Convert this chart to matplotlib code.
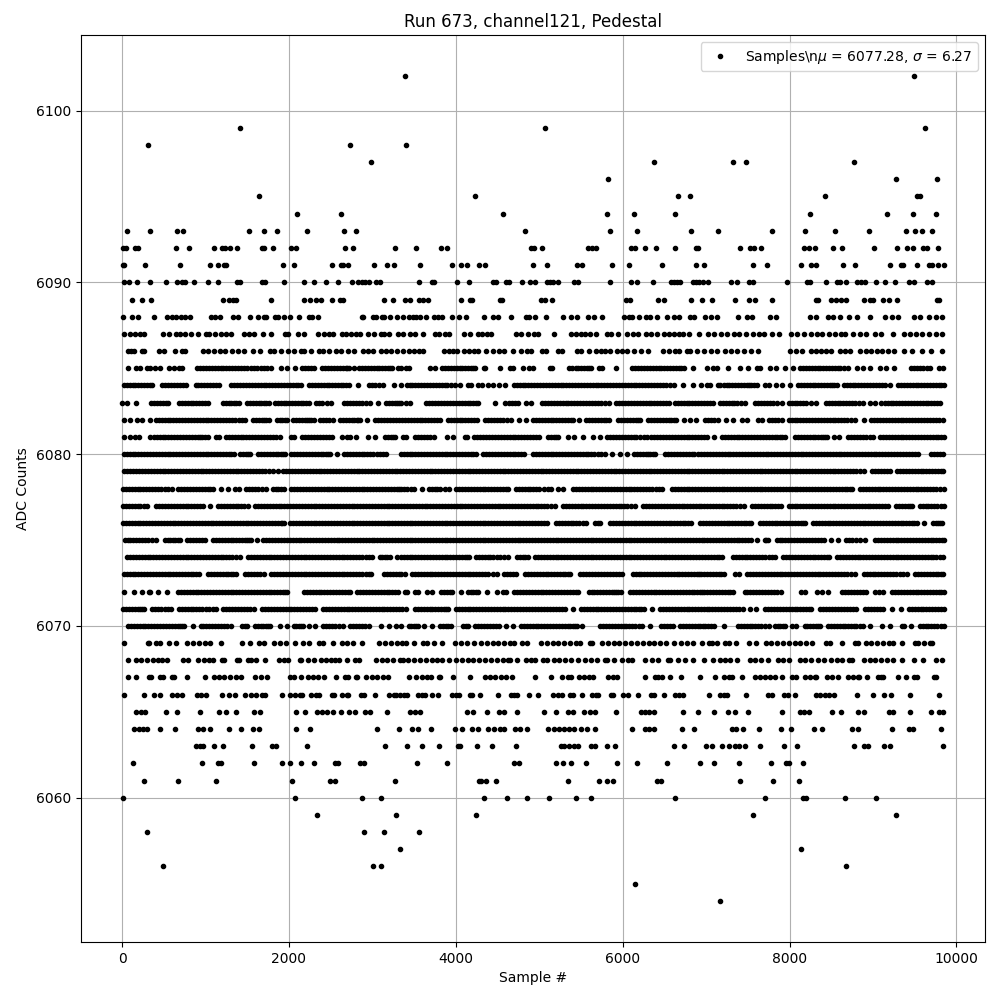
import numpy as np
import matplotlib
matplotlib.use('Agg')
import matplotlib.pyplot as plt

# sample numbers, one list per ADC count
s6102 = [3390, 9490]
s6099 = [1417, 5071, 9624]
s6098 = [315, 2735, 3406]
s6097 = [2987, 6377, 7324, 7480, 8774]
s6096 = [5826, 9277, 9768]
s6095 = [1645, 4232, 6664, 6808, 8426, 9532, 9564]
s6094 = [2100, 2627, 4568, 5810, 6137, 6628, 8247, 9169, 9480, 9756]
s6093 = [64, 340, 663, 735, 1525, 1705, 1861, 2220, 2663, 2807, 4831, 5850, 6173, 6820, 7144, 7791, 8187, 8546,
         8953, 9396, 9504, 9588, 9708]
s6092 = [8, 48, 160, 188, 651, 806, 1106, 1198, 1234, 1298, 1382, 1680, 1700, 1813, 2028, 2080, 2675, 2771, 3274,
         3526, 3825, 3897, 4907, 4939, 5035, 5586, 5634, 5682, 6097, 6149, 6269, 6400, 6628, 6880, 6905, 7408, 7528,
         7576, 7660, 8175, 8235, 8306, 8522, 8630, 9013, 9289, 9409, 9480, 9600, 9652, 9780]
s6091 = [5, 20, 280, 698, 1058, 1154, 1218, 1250, 1932, 2064, 2520, 2623, 2651, 2711, 3022, 3178, 3262, 3574, 3957,
         4065, 4137, 4280, 4352, 4927, 5095, 5454, 5514, 5874, 6077, 6472, 6880, 6977, 7564, 7731, 8139, 8258, 8318,
         8642, 8786, 9205, 9332, 9360, 9524, 9672, 9708, 9780, 9850]
s6090 = [28, 88, 183, 339, 531, 663, 723, 759, 866, 1034, 1154, 1382, 1418, 1681, 1717, 1944, 2184, 2304, 2448, 2592,
         2760, 2831, 2879, 2915, 2963, 3047, 3095, 3562, 3713, 3737, 4017, 4161, 4448, 4484, 4604, 4632, 4796, 4891,
         4951, 5095, 5131, 5167, 5227, 5418, 5466, 5850, 6101, 6173, 6365, 6580, 6616, 6652, 6688, 6844, 6880, 6917,
         6957, 7025, 7300, 7372, 7516, 7564, 7971, 8210, 8246, 8438, 8570, 8606, 8678, 8809, 8857, 8905, 9037, 9145,
         9265, 9432, 9492, 9648, 9708]
s6089 = [124, 244, 352, 1214, 1286, 1334, 1366, 1789, 2184, 2256, 2328, 2388, 2520, 2615, 2651, 3142, 3250, 3394,
         3454, 3562, 3610, 3669, 4065, 4173, 4197, 4532, 4556, 5023, 5071, 5155, 6041, 6089, 6425, 6497, 6820, 6953,
         7073, 7348, 7516, 7588, 7791, 8318, 8342, 8498, 8558, 8618, 8678, 8893, 8965, 9001, 9121, 9193, 9289, 9768,
         9792]
s6088 = [16, 124, 196, 387, 543, 603, 651, 711, 759, 818, 1070, 1118, 1178, 1334, 1394, 1537, 1633, 1705, 1729, 1837,
         1872, 1944, 2016, 2124, 2244, 2280, 2352, 2875, 2890, 3002, 3047, 3118, 3142, 3214, 3298, 3370, 3442, 3490,
         3526, 3574, 3645, 3741, 3789, 3837, 3957, 4041, 4125, 4340, 4448, 4508, 4664, 4843, 4879, 4951, 5083, 5287,
         5382, 5454, 5586, 5658, 5754, 6017, 6077, 6113, 6201, 6281, 6329, 6413, 6532, 6616, 6676, 6808, 6857, 6989,
         7057, 7128, 7384, 7492, 7552, 7767, 7839, 8247, 8318, 8462, 8522, 8606, 8714, 8809, 8965, 9145, 9229, 9301,
         9492, 9564, 9672, 9756, 9828]
s6087 = [28, 100, 160, 220, 268, 495, 567, 651, 698, 759, 830, 914, 1010, 1046, 1118, 1190, 1250, 1310, 1465, 1525,
         1585, 1693, 1789, 1956, 1992, 2112, 2184, 2352, 2423, 2483, 2531, 2639, 2687, 2747, 2807, 2855, 2951, 3022,
         3106, 3142, 3202, 3310, 3370, 3454, 3514, 3610, 3753, 3801, 3873, 3921, 4101, 4173, 4268, 4316, 4376, 4424,
         4724, 4784, 4867, 4939, 4987, 5179, 5382, 5442, 5502, 5550, 5610, 5682, 5814, 5862, 5946, 6053, 6125, 6185,
         6281, 6341, 6413, 6497, 6556, 6616, 6676, 6724, 6796, 6917, 7017, 7097, 7176, 7256, 7336, 7400, 7476, 7556,
         7636, 7695, 7791, 7875, 8015, 8095, 8175, 8254, 8326, 8394, 8474, 8542, 8614, 8666, 8761, 8845, 8913, 9021,
         9101, 9241, 9372, 9444, 9512, 9592, 9672, 9752, 9832]
s6086 = [68, 108, 148, 243, 267, 447, 507, 639, 723, 759, 966, 1034, 1106, 1178, 1238, 1318, 1386, 1465, 1573, 1657,
         1777, 1825, 1905, 1984, 2064, 2144, 2184, 2268, 2364, 2404, 2483, 2567, 2623, 2703, 2783, 2883, 2943, 3002,
         3106, 3166, 3226, 3298, 3370, 3442, 3502, 3562, 3602, 3861, 3921, 3961, 4017, 4101, 4161, 4220, 4260, 4364,
         4448, 4520, 4580, 4688, 4787, 4851, 4907, 5035, 5083, 5227, 5275, 5458, 5502, 5598, 5678, 5738, 5790, 5850,
         5934, 5997, 6057, 6137, 6217, 6305, 6485, 6556, 6628, 6676, 6768, 6808, 6892, 6977, 7057, 7136, 7228, 7296,
         7376, 7456, 7536, 7616, 8007, 8075, 8155, 8254, 8314, 8382, 8434, 8494, 8606, 8666, 8726, 8845, 8913, 8973,
         9053, 9113, 9181, 9253, 9372, 9472, 9592, 9692, 9832]
s6085 = [76, 172, 216, 300, 340, 392, 460, 560, 620, 680, 716, 900, 970, 1040, 1110, 1180, 1250, 1320, 1390, 1460,
         1540, 1620, 1700, 1780, 1910, 1980, 2076, 2160, 2230, 2300, 2400, 2470, 2540, 2610, 2680, 2716, 2776, 2840,
         2910, 2980, 3050, 3120, 3190, 3236, 3310, 3348, 3400, 3442, 3694, 3750, 3834, 3905, 3975, 4045, 4115, 4185,
         4230, 4340, 4350, 4534, 4654, 4690, 4802, 4882, 4930, 5126, 5158, 5362, 5435, 5505, 5575, 5622, 5722, 5758,
         5914, 6114, 6185, 6255, 6325, 6395, 6465, 6535, 6605, 6675, 6730, 6846, 7009, 7080, 7125, 7257, 7409, 7497,
         7609, 7645, 7769, 7840, 7945, 8041, 8121, 8195, 8265, 8335, 8405, 8475, 8545, 8605, 8697, 8809, 8880, 8965,
         9089, 9160, 9257, 9457, 9530, 9600, 9685, 9793, 9845,
         935, 1005, 1075, 1145, 1215, 1285, 1355, 1425, 1500, 1580, 1660, 1740, 2195, 2265, 2435, 2505, 2575, 2645,
         2698, 2875, 2945, 3015, 3085, 3155, 3213, 3870, 3940, 4010, 4080, 4150, 4208, 5398, 5470, 5540, 5598, 6150,
         6220, 6290, 6360, 6430, 6500, 6570, 6640, 6702, 8158, 8230, 8300, 8370, 8440, 8510, 8575, 8651, 9495, 9565,
         9642]
s6084 = [20, 90, 160, 230, 300, 364, 480, 550, 620, 690, 768, 880, 950, 1020, 1090, 1164, 1308, 1380, 1450, 1520,
         1590, 1660, 1730, 1800, 1870, 1940, 2010, 2080, 2148, 2240, 2310, 2380, 2450, 2520, 2590, 2650, 2716, 2828,
         2960, 3030, 3128, 3260, 3348, 3410, 3480, 3550, 3620, 3690, 3760, 3830, 3900, 3990, 4054, 4142, 4182, 4262,
         4310, 4382, 4442, 4522, 4594, 4694, 4765, 4835, 4905, 4975, 5045, 5115, 5185, 5255, 5325, 5395, 5465, 5535,
         5605, 5675, 5745, 5815, 5885, 5955, 6025, 6095, 6165, 6235, 6305, 6375, 6445, 6515, 6610, 6726, 6838, 6942,
         7010, 7045, 7137, 7210, 7280, 7350, 7420, 7490, 7540, 7605, 7701, 7753, 7833, 7905, 8005, 8097, 8170, 8240,
         8310, 8380, 8450, 8510, 8565, 8649, 8720, 8790, 8860, 8930, 9000, 9070, 9145, 9209, 9297, 9370, 9440, 9510,
         9580, 9650, 9720, 9790, 9850,
         55, 125, 195, 265, 332, 515, 585, 655, 729, 915, 985, 1055, 1127, 1344, 1415, 1485, 1555, 1625, 1695, 1765,
         1835, 1905, 1975, 2045, 2114, 2275, 2345, 2415, 2485, 2555, 2620, 2683, 2995, 3079, 3445, 3515, 3585, 3655,
         3725, 3795, 3865, 3945, 4729, 4800, 4870, 4940, 5010, 5080, 5150, 5220, 5290, 5360, 5430, 5500, 5570, 5640,
         5710, 5780, 5850, 5920, 5990, 6060, 6130, 6200, 6270, 6340, 6410, 6480, 6562, 7172, 7245, 7315, 7385, 7455,
         7515, 7572, 8133, 8205, 8275, 8345, 8415, 8480, 8537, 8685, 8755, 8825, 8895, 8965, 9035, 9107, 9333, 9405,
         9475, 9545, 9615, 9685, 9755, 9820]
s6083 = [0, 56, 168, 352, 420, 490, 556, 680, 750, 820, 890, 960, 1024, 1208, 1280, 1340, 1396, 1500, 1570, 1640,
         1700, 1756, 1828, 1900, 1970, 2040, 2110, 2170, 2236, 2324, 2400, 2508, 2660, 2730, 2800, 2880, 2976, 3068,
         3160, 3230, 3300, 3348, 3400, 3450, 3646, 3720, 3790, 3860, 3930, 4000, 4070, 4140, 4210, 4270, 4474, 4594,
         4670, 4750, 4838, 4902, 5030, 5105, 5175, 5245, 5315, 5385, 5455, 5525, 5595, 5665, 5735, 5830, 5922, 5995,
         6065, 6135, 6205, 6275, 6345, 6415, 6480, 6550, 6622, 6695, 6765, 6835, 6905, 6975, 7045, 7085, 7161, 7235,
         7305, 7375, 7465, 7581, 7655, 7725, 7800, 7905, 7989, 8060, 8130, 8200, 8313, 8433, 8505, 8575, 8645, 8715,
         8785, 8885, 8969, 9025, 9101, 9175, 9245, 9315, 9385, 9455, 9525, 9595, 9665, 9735, 9805,
         386, 455, 523, 715, 785, 855, 925, 992, 1244, 1310, 1368, 1535, 1605, 1670, 1728, 1864, 1935, 2005, 2075,
         2140, 2203, 2362, 2454, 2695, 2765, 2840, 2928, 3195, 3265, 3324, 3683, 3755, 3825, 3895, 3965, 4035, 4105,
         4175, 4240, 4632, 4710, 5067, 5140, 5210, 5280, 5350, 5420, 5490, 5560, 5630, 5700, 5782, 5958, 6030, 6100,
         6170, 6240, 6310, 6380, 6447, 6515, 6658, 6730, 6800, 6870, 6940, 7010, 7198, 7270, 7340, 7420, 7618, 7690,
         7762, 7852, 8025, 8095, 8165, 8256, 8469, 8540, 8610, 8680, 8750, 8835, 9138, 9210, 9280, 9350, 9420, 9490,
         9560, 9630, 9700, 9770]
s6082 = [20, 90, 176, 236, 332, 405, 475, 545, 615, 685, 755, 825, 895, 965, 1035, 1105, 1175, 1245, 1315, 1400,
         1476, 1572, 1645, 1700, 1756, 1860, 1920, 1976, 2052, 2120, 2190, 2240, 2296, 2372, 2440, 2524, 2612, 2685,
         2755, 2810, 2856, 2936, 3032, 3105, 3175, 3245, 3315, 3390, 3460, 3530, 3600, 3670, 3740, 3814, 3902, 3975,
         4045, 4115, 4185, 4258, 4346, 4420, 4490, 4560, 4662, 4758, 4842, 4922, 4995, 5065, 5135, 5205, 5275, 5345,
         5410, 5482, 5558, 5630, 5700, 5770, 5830, 5942, 6015, 6085, 6155, 6210, 6302, 6375, 6445, 6515, 6585, 6642,
         6734, 6802, 6881, 6989, 7060, 7137, 7237, 7325, 7425, 7493, 7617, 7665, 7753, 7820, 7905, 7989, 8060, 8130,
         8200, 8270, 8340, 8410, 8480, 8550, 8620, 8690, 8785, 8889, 8977, 9050, 9120, 9190, 9260, 9330, 9400, 9470,
         9540, 9610, 9680, 9750, 9845,
         440, 510, 580, 650, 720, 790, 860, 930, 1000, 1070, 1140, 1210, 1280, 1357, 1438, 1608, 1672, 1728, 1890,
         1948, 2086, 2155, 2215, 2268, 2406, 2482, 2648, 2720, 2782, 2833, 3068, 3140, 3210, 3280, 3352, 3425, 3495,
         3565, 3635, 3705, 3777, 3938, 4010, 4080, 4150, 4222, 4383, 4455, 4525, 4611, 4958, 5030, 5100, 5170, 5240,
         5310, 5378, 5594, 5665, 5735, 5800, 5978, 6050, 6120, 6182, 6338, 6410, 6480, 6550, 6613, 7024, 7098, 7786,
         7862, 8025, 8095, 8165, 8235, 8305, 8375, 8445, 8515, 8585, 8655, 8737, 9013, 9085, 9155, 9225, 9295, 9365,
         9435, 9505, 9575, 9645, 9715, 9797]
s6081 = [20, 90, 160, 208, 340, 415, 485, 555, 625, 695, 765, 835, 905, 960, 1024, 1128, 1164, 1244, 1315, 1385,
         1455, 1525, 1595, 1665, 1735, 1805, 1888, 2020, 2056, 2156, 2230, 2300, 2370, 2440, 2512, 2636, 2700, 2728,
         2808, 2952, 3036, 3152, 3220, 3276, 3370, 3400, 3506, 3580, 3650, 3738, 3894, 3970, 4110, 4134, 4222, 4295,
         4365, 4435, 4505, 4575, 4645, 4715, 4785, 4855, 4925, 4998, 5106, 5175, 5230, 5342, 5415, 5530, 5642, 5730,
         5814, 5885, 5955, 6025, 6095, 6165, 6250, 6338, 6414, 6485, 6555, 6625, 6695, 6765, 6835, 6905, 6975, 7013,
         7089, 7189, 7260, 7330, 7400, 7470, 7540, 7610, 7680, 7750, 7820, 7880, 7945, 8061, 8135, 8205, 8275, 8345,
         8400, 8453, 8529, 8597, 8701, 8775, 8845, 8915, 9005, 9081, 9155, 9225, 9295, 9365, 9435, 9505, 9575, 9645,
         9715, 9785, 9850,
         378, 450, 520, 590, 660, 730, 800, 870, 932, 992, 1280, 1350, 1420, 1490, 1560, 1630, 1700, 1770, 1846, 2193,
         2265, 2335, 2405, 2476, 3186, 3248, 3543, 3615, 3694, 4258, 4330, 4400, 4470, 4540, 4610, 4680, 4750, 4820,
         4890, 4961, 5140, 5202, 5850, 5920, 5990, 6060, 6130, 6207, 6294, 6376, 6450, 6520, 6590, 6660, 6730, 6800,
         6870, 6940, 7225, 7295, 7365, 7435, 7505, 7575, 7645, 7715, 7785, 7850, 7912, 8098, 8170, 8240, 8310, 8372,
         8426, 8738, 8810, 8880, 8960, 9118, 9190, 9260, 9330, 9400, 9470, 9540, 9610, 9680, 9750, 9817]
s6080 = [20, 90, 160, 230, 300, 370, 440, 510, 580, 650, 720, 790, 860, 930, 1000, 1070, 1140, 1210, 1280, 1340,
         1412, 1480, 1536, 1628, 1700, 1770, 1840, 1900, 1948, 2028, 2100, 2170, 2240, 2310, 2380, 2440, 2488, 2580,
         2660, 2730, 2800, 2870, 2940, 3010, 3090, 3168, 3340, 3410, 3480, 3550, 3620, 3690, 3760, 3830, 3900, 3970,
         4040, 4110, 4180, 4242, 4326, 4400, 4470, 4540, 4610, 4680, 4750, 4822, 4922, 4995, 5065, 5135, 5205, 5275,
         5345, 5415, 5485, 5555, 5625, 5700, 5782, 5870, 5966, 6054, 6134, 6205, 6275, 6330, 6390, 6506, 6580, 6650,
         6720, 6790, 6860, 6942, 7012, 7082, 7152, 7222, 7292, 7362, 7432, 7502, 7572, 7642, 7712, 7782, 7852, 7922,
         7992, 8062, 8132, 8202, 8272, 8342, 8412, 8482, 8552, 8622, 8692, 8762, 8832, 8902, 8972, 9042, 9112, 9182,
         9252, 9322, 9392, 9462, 9545, 9697, 9770, 9845,
         55, 125, 195, 265, 335, 405, 475, 545, 615, 685, 755, 825, 895, 965, 1035, 1105, 1175, 1245, 1310, 1446, 1508,
         1664, 1735, 1805, 1870, 1924, 2064, 2135, 2205, 2275, 2345, 2410, 2464, 2695, 2765, 2835, 2905, 2975, 3050,
         3129, 3375, 3445, 3515, 3585, 3655, 3725, 3795, 3865, 3935, 4005, 4075, 4145, 4211, 4363, 4435, 4505, 4575,
         4645, 4715, 4786, 4958, 5030, 5100, 5170, 5240, 5310, 5380, 5450, 5520, 5590, 5662, 5741, 6170, 6240, 6302,
         6360, 6543, 6615, 6685, 6755, 6825, 6901, 6977, 7047, 7117, 7187, 7257, 7327, 7397, 7467, 7537, 7607, 7677,
         7747, 7817, 7887, 7957, 8027, 8097, 8167, 8237, 8307, 8377, 8447, 8517, 8587, 8657, 8727, 8797, 8867, 8937,
         9007, 9077, 9147, 9217, 9287, 9357, 9427, 9503, 9733, 9807]
s6079 = [28, 100, 170, 240, 310, 380, 450, 520, 590, 660, 730, 800, 870, 940, 1010, 1080, 1150, 1220, 1290, 1360,
         1430, 1500, 1570, 1640, 1710, 1804, 1868, 1932, 2005, 2075, 2145, 2215, 2285, 2355, 2425, 2495, 2565, 2635,
         2705, 2775, 2845, 2915, 2985, 3055, 3125, 3195, 3265, 3335, 3405, 3475, 3545, 3615, 3685, 3755, 3825, 3895,
         3965, 4035, 4105, 4175, 4245, 4315, 4385, 4455, 4525, 4595, 4665, 4735, 4805, 4875, 4945, 5015, 5085, 5155,
         5225, 5295, 5365, 5435, 5505, 5575, 5645, 5715, 5785, 5855, 5925, 5995, 6065, 6135, 6205, 6275, 6345, 6415,
         6485, 6555, 6625, 6695, 6765, 6835, 6905, 6975, 7045, 7115, 7185, 7255, 7325, 7395, 7465, 7535, 7605, 7675,
         7745, 7815, 7885, 7955, 8025, 8095, 8165, 8235, 8305, 8375, 8445, 8515, 8585, 8655, 8725, 8795, 8889, 8989,
         9060, 9130, 9205, 9289, 9360, 9430, 9500, 9570, 9640, 9710, 9780, 9845,
         64, 135, 205, 275, 345, 415, 485, 555, 625, 695, 765, 835, 905, 975, 1045, 1115, 1185, 1255, 1325, 1395, 1465,
         1535, 1605, 1675, 1757, 1968, 2040, 2110, 2180, 2250, 2320, 2390, 2460, 2530, 2600, 2670, 2740, 2810, 2880,
         2950, 3020, 3090, 3160, 3230, 3300, 3370, 3440, 3510, 3580, 3650, 3720, 3790, 3860, 3930, 4000, 4070, 4140,
         4210, 4280, 4350, 4420, 4490, 4560, 4630, 4700, 4770, 4840, 4910, 4980, 5050, 5120, 5190, 5260, 5330, 5400,
         5470, 5540, 5610, 5680, 5750, 5820, 5890, 5960, 6030, 6100, 6170, 6240, 6310, 6380, 6450, 6520, 6590, 6660,
         6730, 6800, 6870, 6940, 7010, 7080, 7150, 7220, 7290, 7360, 7430, 7500, 7570, 7640, 7710, 7780, 7850, 7920,
         7990, 8060, 8130, 8200, 8270, 8340, 8410, 8480, 8550, 8620, 8690, 8760, 8842, 9025, 9095, 9168, 9325, 9395,
         9465, 9535, 9605, 9675, 9745, 9812]
s6078 = [8, 80, 150, 220, 290, 360, 430, 510, 596, 672, 745, 815, 885, 955, 1025, 1088, 1188, 1268, 1348, 1396, 1488,
         1560, 1630, 1728, 1808, 1870, 1936, 2028, 2100, 2170, 2240, 2310, 2380, 2450, 2520, 2590, 2660, 2730, 2800,
         2870, 2940, 3010, 3080, 3150, 3220, 3290, 3348, 3420, 3500, 3590, 3674, 3745, 3815, 3922, 4002, 4075, 4145,
         4215, 4285, 4355, 4425, 4495, 4565, 4630, 4718, 4790, 4860, 4930, 5000, 5102, 5142, 5226, 5290, 5402, 5475,
         5545, 5615, 5685, 5755, 5825, 5895, 5965, 6035, 6105, 6175, 6245, 6315, 6395, 6470, 6590, 6660, 6730, 6800,
         6870, 6942, 7010, 7080, 7150, 7220, 7290, 7360, 7430, 7500, 7570, 7640, 7710, 7780, 7850, 7920, 7990, 8060,
         8130, 8200, 8270, 8340, 8410, 8490, 8560, 8630, 8690, 8753, 8841, 8915, 8985, 9055, 9125, 9195, 9265, 9335,
         9405, 9475, 9545, 9615, 9685, 9755, 9850,
         44, 115, 185, 255, 325, 395, 470, 553, 708, 780, 850, 920, 990, 1057, 1524, 1595, 1679, 1839, 1903, 2064, 2135,
         2205, 2275, 2345, 2415, 2485, 2555, 2625, 2695, 2765, 2835, 2905, 2975, 3045, 3115, 3185, 3255, 3319, 3384,
         3460, 3710, 3780, 3868, 4038, 4110, 4180, 4250, 4320, 4390, 4460, 4530, 4598, 4754, 4825, 4895, 4965, 5051,
         5439, 5510, 5580, 5650, 5720, 5790, 5860, 5930, 6000, 6070, 6140, 6210, 6280, 6355, 6432, 6625, 6695, 6765,
         6835, 6906, 6976, 7045, 7115, 7185, 7255, 7325, 7395, 7465, 7535, 7605, 7675, 7745, 7815, 7885, 7955, 8025,
         8095, 8165, 8235, 8305, 8375, 8450, 8525, 8595, 8660, 8722, 8878, 8950, 9020, 9090, 9160, 9230, 9300, 9370,
         9440, 9510, 9580, 9650, 9720, 9802]
s6077 = [8, 80, 150, 220, 304, 408, 480, 550, 620, 690, 760, 830, 900, 964, 1056, 1152, 1220, 1290, 1360, 1430, 1504,
         1592, 1665, 1735, 1805, 1875, 1945, 2015, 2085, 2155, 2225, 2295, 2365, 2435, 2505, 2575, 2645, 2715, 2785,
         2855, 2925, 2995, 3065, 3135, 3205, 3275, 3345, 3415, 3485, 3555, 3625, 3695, 3765, 3835, 3905, 3975, 4045,
         4115, 4185, 4255, 4325, 4395, 4465, 4535, 4605, 4675, 4745, 4815, 4885, 4955, 5025, 5095, 5190, 5282, 5355,
         5425, 5495, 5565, 5635, 5705, 5775, 5845, 5915, 5985, 6055, 6150, 6246, 6320, 6390, 6460, 6530, 6600, 6670,
         6740, 6810, 6880, 6942, 7010, 7080, 7150, 7220, 7290, 7360, 7457, 7549, 7620, 7690, 7760, 7830, 7901, 7989,
         8060, 8130, 8200, 8270, 8340, 8410, 8480, 8550, 8620, 8690, 8760, 8830, 8900, 8970, 9040, 9110, 9185, 9273,
         9345, 9415, 9473, 9561, 9630, 9700, 9770, 9850,
         44, 115, 185, 262, 444, 515, 585, 655, 725, 795, 865, 932, 1186, 1255, 1325, 1395, 1467, 1628, 1700, 1770,
         1840, 1910, 1980, 2050, 2120, 2190, 2260, 2330, 2400, 2470, 2540, 2610, 2680, 2750, 2820, 2890, 2960, 3030,
         3100, 3170, 3240, 3310, 3380, 3450, 3520, 3590, 3660, 3730, 3800, 3870, 3940, 4010, 4080, 4150, 4220, 4290,
         4360, 4430, 4500, 4570, 4640, 4710, 4780, 4850, 4920, 4990, 5060, 5142, 5318, 5390, 5460, 5530, 5600, 5670,
         5740, 5810, 5880, 5950, 6020, 6102, 6283, 6355, 6425, 6495, 6565, 6635, 6705, 6775, 6845, 6911, 6976, 7045,
         7115, 7185, 7255, 7325, 7408, 7584, 7655, 7725, 7795, 7865, 8024, 8095, 8165, 8235, 8305, 8375, 8445, 8515,
         8585, 8655, 8725, 8795, 8865, 8935, 9005, 9075, 9147, 9309, 9380, 9444, 9595, 9665, 9735, 9810]
s6076 = [8, 80, 150, 220, 290, 360, 430, 500, 570, 640, 710, 780, 850, 920, 990, 1060, 1130, 1200, 1270, 1340, 1410,
         1480, 1550, 1620, 1690, 1760, 1836, 1900, 1936, 2012, 2085, 2155, 2225, 2295, 2365, 2435, 2505, 2575, 2645,
         2715, 2785, 2855, 2925, 2995, 3065, 3135, 3205, 3275, 3345, 3410, 3480, 3550, 3620, 3690, 3760, 3830, 3900,
         3970, 4040, 4110, 4180, 4250, 4320, 4390, 4460, 4530, 4600, 4670, 4740, 4810, 4880, 4950, 5020, 5098, 5202,
         5270, 5340, 5410, 5480, 5566, 5670, 5734, 5846, 5920, 5990, 6060, 6130, 6200, 6270, 6340, 6410, 6480, 6550,
         6620, 6690, 6750, 6814, 6929, 7000, 7070, 7140, 7210, 7280, 7350, 7420, 7480, 7541, 7641, 7715, 7785, 7855,
         7925, 7995, 8065, 8135, 8181, 8277, 8350, 8420, 8490, 8560, 8630, 8700, 8770, 8840, 8910, 8980, 9050, 9120,
         9190, 9260, 9330, 9400, 9470, 9525, 9617, 9721, 9780, 9825,
         44, 115, 185, 255, 325, 395, 465, 535, 605, 675, 745, 815, 885, 955, 1025, 1095, 1165, 1235, 1305, 1375, 1445,
         1515, 1585, 1655, 1725, 1798, 1868, 1918, 2048, 2120, 2190, 2260, 2330, 2400, 2470, 2540, 2610, 2680, 2750,
         2820, 2890, 2960, 3030, 3100, 3170, 3240, 3310, 3378, 3445, 3515, 3585, 3655, 3725, 3795, 3865, 3935, 4005,
         4075, 4145, 4215, 4285, 4355, 4425, 4495, 4565, 4635, 4705, 4775, 4845, 4915, 4985, 5059, 5236, 5305, 5375,
         5445, 5523, 5702, 5883, 5955, 6025, 6095, 6165, 6235, 6305, 6375, 6445, 6515, 6585, 6655, 6720, 6782, 6965,
         7035, 7105, 7175, 7245, 7315, 7385, 7450, 7510, 7678, 7750, 7820, 7890, 7960, 8030, 8100, 8158, 8313, 8385,
         8455, 8525, 8595, 8665, 8735, 8805, 8875, 8945, 9015, 9085, 9155, 9225, 9295, 9365, 9435, 9497, 9750, 9802]
s6075 = [32, 100, 170, 240, 310, 404, 512, 580, 640, 696, 780, 850, 920, 988, 1092, 1160, 1230, 1300, 1370, 1440,
         1500, 1548, 1612, 1692, 1765, 1835, 1905, 1975, 2045, 2115, 2185, 2255, 2325, 2395, 2465, 2535, 2605, 2675,
         2745, 2815, 2885, 2955, 3025, 3095, 3165, 3235, 3305, 3375, 3445, 3515, 3585, 3655, 3725, 3795, 3865, 3935,
         4005, 4075, 4145, 4215, 4285, 4355, 4425, 4495, 4565, 4635, 4705, 4775, 4845, 4915, 4985, 5055, 5125, 5195,
         5265, 5335, 5405, 5475, 5545, 5615, 5685, 5755, 5825, 5895, 5965, 6035, 6105, 6175, 6245, 6315, 6385, 6455,
         6525, 6595, 6665, 6735, 6805, 6875, 6945, 7015, 7085, 7155, 7225, 7295, 7365, 7435, 7505, 7533, 7605, 7701,
         7745, 7845, 7915, 7985, 8055, 8125, 8195, 8265, 8335, 8417, 8497, 8585, 8673, 8745, 8841, 8909, 9021, 9095,
         9165, 9235, 9305, 9375, 9445, 9515, 9585, 9655, 9725, 9795, 9850,
         66, 135, 205, 275, 357, 546, 610, 668, 815, 885, 954, 1126, 1195, 1265, 1335, 1405, 1470, 1524, 1728, 1800,
         1870, 1940, 2010, 2080, 2150, 2220, 2290, 2360, 2430, 2500, 2570, 2640, 2710, 2780, 2850, 2920, 2990, 3060,
         3130, 3200, 3270, 3340, 3410, 3480, 3550, 3620, 3690, 3760, 3830, 3900, 3970, 4040, 4110, 4180, 4250, 4320,
         4390, 4460, 4530, 4600, 4670, 4740, 4810, 4880, 4950, 5020, 5090, 5160, 5230, 5300, 5370, 5440, 5510, 5580,
         5650, 5720, 5790, 5860, 5930, 6000, 6070, 6140, 6210, 6280, 6350, 6420, 6490, 6560, 6630, 6700, 6770, 6840,
         6910, 6980, 7050, 7120, 7190, 7260, 7330, 7400, 7470, 7723, 7880, 7950, 8020, 8090, 8160, 8230, 8300, 8376,
         8709, 8793, 9058, 9130, 9200, 9270, 9340, 9410, 9480, 9550, 9620, 9690, 9760, 9822]
s6074 = [56, 130, 200, 270, 340, 410, 480, 550, 620, 690, 760, 830, 900, 970, 1040, 1110, 1180, 1250, 1320, 1408,
         1508, 1580, 1650, 1720, 1790, 1860, 1930, 2000, 2070, 2140, 2210, 2280, 2350, 2420, 2490, 2560, 2630, 2700,
         2770, 2840, 2920, 2996, 3092, 3150, 3208, 3292, 3340, 3410, 3480, 3550, 3620, 3690, 3760, 3830, 3900, 3970,
         4040, 4110, 4162, 4238, 4310, 4380, 4450, 4530, 4630, 4734, 4800, 4862, 4950, 5020, 5090, 5160, 5230, 5300,
         5370, 5440, 5510, 5580, 5650, 5720, 5790, 5860, 5930, 6000, 6070, 6140, 6210, 6280, 6350, 6420, 6490, 6560,
         6630, 6700, 6770, 6840, 6910, 6985, 7055, 7125, 7185, 7317, 7390, 7460, 7530, 7600, 7670, 7750, 7825, 7921,
         7995, 8065, 8135, 8205, 8275, 8345, 8410, 8477, 8565, 8640, 8710, 8780, 8850, 8920, 8990, 9060, 9130, 9200,
         9270, 9340, 9410, 9480, 9550, 9620, 9690, 9760, 9845,
         93, 165, 235, 305, 375, 445, 515, 585, 655, 725, 795, 865, 935, 1005, 1075, 1145, 1215, 1285, 1364, 1544, 1615,
         1685, 1755, 1825, 1895, 1965, 2035, 2105, 2175, 2245, 2315, 2385, 2455, 2525, 2595, 2665, 2735, 2805, 2880,
         2958, 3121, 3179, 3375, 3445, 3515, 3585, 3655, 3725, 3795, 3865, 3935, 4005, 4075, 4136, 4274, 4345, 4415,
         4490, 4580, 4767, 4831, 4985, 5055, 5125, 5195, 5265, 5335, 5405, 5475, 5545, 5615, 5685, 5755, 5825, 5895,
         5965, 6035, 6105, 6175, 6245, 6315, 6385, 6455, 6525, 6595, 6665, 6735, 6805, 6875, 6948, 7020, 7090, 7155,
         7353, 7425, 7495, 7565, 7635, 7710, 7788, 7958, 8030, 8100, 8170, 8240, 8310, 8378, 8444, 8602, 8675, 8745,
         8815, 8885, 8955, 9025, 9095, 9165, 9235, 9305, 9375, 9445, 9515, 9585, 9655, 9725, 9802]
s6073 = [20, 90, 160, 230, 300, 370, 440, 510, 580, 650, 720, 790, 850, 916, 1028, 1100, 1170, 1240, 1300, 1364,
         1472, 1540, 1620, 1696, 1788, 1860, 1930, 2000, 2070, 2140, 2210, 2280, 2350, 2420, 2490, 2560, 2630, 2700,
         2770, 2840, 2920, 2988, 3140, 3210, 3280, 3348, 3395, 3474, 3545, 3615, 3685, 3755, 3825, 3895, 3965, 4035,
         4105, 4175, 4245, 4315, 4390, 4490, 4574, 4650, 4722, 4826, 4900, 4970, 5040, 5110, 5180, 5250, 5310, 5370,
         5494, 5565, 5635, 5705, 5775, 5845, 5920, 5990, 6122, 6190, 6260, 6330, 6400, 6470, 6540, 6610, 6680, 6750,
         6820, 6890, 6942, 7010, 7080, 7150, 7217, 7341, 7393, 7493, 7565, 7635, 7705, 7775, 7845, 7915, 7985, 8055,
         8125, 8195, 8265, 8335, 8405, 8475, 8545, 8615, 8685, 8785, 8889, 8960, 9030, 9100, 9170, 9240, 9320, 9405,
         9501, 9575, 9645, 9715, 9785, 9845,
         55, 125, 195, 265, 335, 405, 475, 545, 615, 685, 755, 820, 883, 1064, 1135, 1205, 1270, 1332, 1506, 1580, 1658,
         1824, 1895, 1965, 2035, 2105, 2175, 2245, 2315, 2385, 2455, 2525, 2595, 2665, 2735, 2805, 2880, 2954, 3175,
         3245, 3314, 3510, 3580, 3650, 3720, 3790, 3860, 3930, 4000, 4070, 4140, 4210, 4280, 4352, 4440, 4612, 4686,
         4863, 4935, 5005, 5075, 5145, 5215, 5280, 5340, 5530, 5600, 5670, 5740, 5810, 5882, 5955, 6156, 6225, 6295,
         6365, 6435, 6505, 6575, 6645, 6715, 6785, 6855, 6916, 6976, 7045, 7115, 7183, 7529, 7600, 7670, 7740, 7810,
         7880, 7950, 8020, 8090, 8160, 8230, 8300, 8370, 8440, 8510, 8580, 8650, 8735, 8925, 8995, 9065, 9135, 9205,
         9280, 9362, 9538, 9610, 9680, 9750, 9815]
s6072 = [28, 144, 236, 320, 336, 432, 544, 668, 740, 810, 880, 950, 1020, 1090, 1160, 1230, 1300, 1370, 1440, 1510,
         1580, 1650, 1720, 1790, 1860, 1930, 1976, 2180, 2250, 2320, 2390, 2460, 2530, 2600, 2670, 2736, 2820, 2890,
         2960, 3030, 3100, 3170, 3240, 3310, 3390, 3420, 3506, 3550, 3650, 3718, 3818, 3890, 3960, 4058, 4142, 4210,
         4270, 4374, 4490, 4560, 4602, 4694, 4770, 4840, 4910, 4980, 5050, 5120, 5190, 5260, 5330, 5400, 5470, 5594,
         5660, 5730, 5800, 5870, 5920, 5974, 6086, 6160, 6230, 6300, 6370, 6440, 6510, 6580, 6650, 6720, 6790, 6860,
         6930, 6980, 7050, 7120, 7190, 7260, 7325, 7461, 7530, 7600, 7670, 7740, 7810, 7893, 8137, 8189, 8329, 8393,
         8457, 8625, 8700, 8770, 8840, 8917, 9029, 9077, 9125, 9229, 9300, 9370, 9440, 9510, 9580, 9650, 9720, 9790,
         9850,
         704, 775, 845, 915, 985, 1055, 1125, 1195, 1265, 1335, 1405, 1475, 1545, 1615, 1685, 1755, 1825, 1895, 1953,
         2215, 2285, 2355, 2425, 2495, 2565, 2635, 2703, 2855, 2925, 2995, 3065, 3135, 3205, 3275, 3854, 3925, 4176,
         4240, 4730, 4805, 4875, 4945, 5015, 5085, 5155, 5225, 5295, 5365, 5435, 5627, 5695, 5765, 5835, 5895, 5947,
         6123, 6195, 6265, 6335, 6405, 6475, 6545, 6615, 6685, 6755, 6825, 6895, 6955, 7015, 7085, 7155, 7225, 7292,
         7495, 7565, 7635, 7705, 7775, 7851, 8662, 8735, 8805, 8878, 9264, 9335, 9405, 9475, 9545, 9615, 9685, 9755,
         9820]
s6071 = [8, 80, 150, 220, 268, 356, 430, 510, 584, 680, 750, 820, 890, 960, 1040, 1128, 1208, 1280, 1350, 1420, 1500,
         1576, 1680, 1750, 1820, 1890, 1960, 2030, 2100, 2170, 2240, 2316, 2412, 2480, 2550, 2620, 2690, 2760, 2830,
         2900, 2970, 3040, 3110, 3180, 3250, 3320, 3400, 3506, 3580, 3650, 3720, 3790, 3860, 3910, 4002, 4070, 4140,
         4210, 4280, 4350, 4420, 4490, 4560, 4630, 4700, 4770, 4840, 4910, 4986, 5060, 5130, 5200, 5270, 5310, 5410,
         5502, 5570, 5640, 5710, 5780, 5850, 5920, 5990, 6060, 6130, 6200, 6250, 6346, 6446, 6520, 6590, 6660, 6730,
         6800, 6870, 6942, 7005, 7075, 7145, 7215, 7285, 7355, 7445, 7529, 7601, 7709, 7780, 7850, 7920, 7990, 8060,
         8130, 8200, 8261, 8365, 8440, 8510, 8580, 8650, 8720, 8793, 8909, 8980, 9050, 9125, 9229, 9333, 9429, 9500,
         9570, 9640, 9710, 9780, 9850,
         44, 115, 185, 244, 393, 470, 547, 715, 785, 855, 925, 1000, 1084, 1244, 1315, 1385, 1460, 1538, 1715, 1785,
         1855, 1925, 1995, 2065, 2135, 2205, 2278, 2446, 2515, 2585, 2655, 2725, 2795, 2865, 2935, 3005, 3075, 3145,
         3215, 3285, 3360, 3543, 3615, 3685, 3755, 3825, 3885, 4036, 4105, 4175, 4245, 4315, 4385, 4455, 4525, 4595,
         4665, 4735, 4805, 4875, 4948, 5023, 5095, 5165, 5235, 5536, 5605, 5675, 5745, 5815, 5885, 5955, 6025, 6095,
         6165, 6225, 6483, 6555, 6625, 6695, 6765, 6835, 6906, 6973, 7040, 7110, 7180, 7250, 7320, 7400, 7744, 7815,
         7885, 7955, 8025, 8095, 8165, 8230, 8402, 8475, 8545, 8615, 8685, 8756, 8944, 9015, 9087, 9465, 9535, 9605,
         9675, 9745, 9815]
s6070 = [68, 140, 210, 280, 350, 420, 490, 560, 630, 700, 748, 852, 940, 1010, 1080, 1150, 1220, 1304, 1440, 1496,
         1592, 1660, 1720, 1768, 1888, 1972, 2060, 2120, 2164, 2236, 2312, 2408, 2480, 2550, 2644, 2728, 2800, 2870,
         2964, 3108, 3196, 3288, 3348, 3434, 3500, 3550, 3622, 3718, 3806, 3880, 3938, 4082, 4150, 4230, 4300, 4370,
         4440, 4518, 4598, 4690, 4782, 4850, 4920, 4990, 5060, 5130, 5200, 5270, 5340, 5400, 5450, 5514, 5726, 5800,
         5870, 5940, 6010, 6080, 6150, 6230, 6322, 6462, 6530, 6598, 6686, 6760, 6830, 6900, 6960, 7020, 7097, 7217,
         7377, 7450, 7520, 7590, 7660, 7757, 7829, 7890, 7945, 8029, 8073, 8181, 8250, 8320, 8365, 8457, 8530, 8600,
         8670, 8740, 8800, 8885, 8969, 9113, 9209, 9349, 9377, 9461, 9561, 9630, 9700, 9770, 9850,
         104, 175, 245, 315, 385, 455, 525, 595, 665, 724, 975, 1045, 1115, 1185, 1262, 1468, 1626, 1690, 1744, 2090,
         2142, 2444, 2515, 2597, 2764, 2835, 2917, 3467, 3525, 3843, 3909, 4116, 4265, 4335, 4405, 4479, 4816, 4885,
         4955, 5025, 5095, 5165, 5235, 5305, 5370, 5425, 5763, 5835, 5905, 5975, 6045, 6115, 6190, 6495, 6564, 6723,
         6795, 6865, 6930, 6990, 7058, 7413, 7485, 7555, 7625, 7708, 7860, 7918, 8215, 8285, 8343, 8494, 8565, 8635,
         8705, 8770, 8842, 9595, 9665, 9735, 9810]
s6069 = [28, 308, 328, 408, 460, 560, 644, 780, 850, 920, 990, 1056, 1180, 1432, 1528, 1640, 1696, 1820, 1890, 1960,
         2076, 2168, 2236, 2360, 2404, 2524, 2636, 2700, 2770, 2876, 3080, 3150, 3220, 3300, 3360, 3398, 3494, 3602,
         3658, 3734, 3838, 3990, 4060, 4130, 4218, 4302, 4370, 4440, 4510, 4580, 4650, 4698, 4794, 4854, 5022, 5090,
         5160, 5230, 5300, 5370, 5440, 5490, 5606, 5638, 5750, 5820, 5890, 5960, 6030, 6100, 6170, 6240, 6310, 6380,
         6450, 6520, 6610, 6702, 6770, 6840, 6953, 7029, 7075, 7125, 7229, 7273, 7361, 7509, 7601, 7713, 7780, 7850,
         7920, 7990, 8060, 8130, 8200, 8273, 8433, 8489, 8633, 8781, 8825, 8913, 8980, 9050, 9120, 9190, 9245, 9349,
         9501, 9545, 9609, 9680, 9713]
s6068 = [72, 164, 230, 300, 370, 430, 476, 544, 728, 788, 904, 980, 1040, 1088, 1200, 1216, 1380, 1396, 1508, 1550,
         1600, 1712, 1880, 1936, 1984, 2132, 2148, 2232, 2296, 2380, 2440, 2500, 2550, 2596, 2696, 2788, 2836, 3044,
         3110, 3180, 3250, 3330, 3362, 3430, 3500, 3570, 3640, 3710, 3780, 3830, 3914, 4002, 4070, 4140, 4210, 4280,
         4350, 4420, 4490, 4560, 4620, 4654, 4738, 4838, 4900, 4954, 5042, 5090, 5174, 5240, 5310, 5380, 5470, 5554,
         5620, 5698, 5782, 5810, 5890, 5994, 6060, 6110, 6262, 6354, 6418, 6546, 6562, 6658, 6750, 6838, 6977, 7077,
         7169, 7230, 7285, 7373, 7521, 7590, 7660, 7737, 7857, 7920, 7990, 8121, 8190, 8260, 8345, 8417, 8497, 8565,
         8633, 8709, 8753, 8889, 8961, 9030, 9100, 9170, 9240, 9345, 9497, 9605, 9757, 9825]
s6067 = [76, 172, 324, 348, 460, 496, 600, 628, 780, 988, 1104, 1160, 1216, 1288, 1360, 1420, 1596, 1660, 1736, 2012,
         2060, 2140, 2228, 2290, 2350, 2420, 2560, 2668, 2708, 2800, 2820, 2928, 2990, 3060, 3130, 3188, 3442, 3526,
         3590, 3650, 3700, 3798, 3810, 3962, 4174, 4350, 4410, 4470, 4540, 4600, 4670, 4950, 5146, 5278, 5350, 5380,
         5482, 5540, 5600, 5640, 5822, 5880, 5930, 6270, 6386, 6420, 6470, 6562, 6694, 6922, 7109, 7217, 7270, 7305,
         7429, 7581, 7640, 7700, 7760, 7820, 7913, 8029, 8077, 8185, 8240, 8300, 8321, 8449, 8505, 8585, 8701, 8760,
         8820, 8837, 8933, 9061, 9100, 9125, 9297, 9401, 9489, 9529, 9733, 9761]
s6066 = [28, 268, 388, 452, 600, 660, 716, 892, 940, 1000, 1200, 1276, 1356, 1476, 1540, 1610, 1680, 1716, 1912, 2008,
         2070, 2136, 2160, 2268, 2330, 2364, 2516, 2540, 2640, 2700, 2708, 2860, 2900, 3028, 3200, 3258, 3288, 3336,
         3374, 3410, 3542, 3600, 3630, 3718, 3790, 3954, 4000, 4038, 4166, 4190, 4294, 4510, 4662, 4700, 4730, 4882,
         4990, 5162, 5220, 5270, 5374, 5400, 5518, 5634, 5675, 5710, 5862, 5886, 6006, 6062, 6186, 6334, 6380, 6490,
         6622, 6680, 6720, 7037, 7169, 7217, 7245, 7481, 7745, 7785, 7929, 7977, 8069, 8317, 8365, 8421, 8477, 8533,
         8813, 9005, 9137, 9221, 9449, 9797]
s6065 = [172, 232, 280, 532, 664, 928, 1156, 1240, 1360, 1584, 1648, 2080, 2188, 2340, 2400, 2460, 2524, 2620, 2720,
         2788, 2908, 2970, 3176, 3454, 3510, 3570, 4134, 4210, 4378, 4522, 4582, 4738, 5062, 5206, 5350, 5410, 5542,
         5606, 5674, 5914, 6214, 6262, 6310, 6370, 6718, 6898, 7089, 7265, 7349, 7501, 7913, 8129, 8177, 8237, 8513,
         8621, 8825, 8897, 9193, 9241, 9449, 9701, 9797, 9845]
s6064 = [144, 208, 256, 296, 460, 640, 904, 968, 1048, 1276, 1420, 1564, 1636, 2080, 2248, 3052, 3324, 3470, 3542,
         3706, 3990, 4074, 4198, 4262, 4390, 4462, 4530, 4582, 4714, 4774, 4858, 5110, 5182, 5242, 5302, 5362, 5422,
         5502, 5578, 5670, 6106, 6262, 6310, 6370, 6706, 6850, 7305, 7357, 7445, 7637, 7901, 8021, 8297, 8393, 8753,
         8825, 9233, 9437, 9485, 9821]
s6063 = [888, 928, 968, 1096, 1204, 1552, 1796, 1848, 2212, 3148, 3418, 3598, 3802, 4022, 4054, 4258, 4438, 4726,
         5266, 5302, 5362, 5422, 5462, 5622, 5674, 5806, 5902, 6610, 6730, 7001, 7065, 7193, 7277, 7349, 7397, 7469,
         7649, 7937, 8093, 8777, 8897, 8945, 9137, 9209, 9845]
s6062 = [136, 952, 1144, 1188, 1576, 1912, 2008, 2140, 2296, 2548, 2584, 2848, 2896, 3538, 3898, 4702, 4762, 5206,
         5290, 5386, 5566, 5926, 6166, 6526, 6922, 7097, 7397, 7781, 7961, 7997, 8165]
s6061 = [268, 676, 1120, 2032, 2488, 2548, 3268, 4282, 4306, 4366, 4486, 5350, 5722, 5814, 5878, 6406, 6458, 7409,
         7805, 8117]
s6060 = [16, 2068, 2872, 3100, 4342, 4616, 4856, 5122, 5446, 5626, 6628, 7709, 8165, 8197, 8665, 9033]
s6059 = [2332, 3286, 4246, 7564, 9277]
s6058 = [303, 2896, 3136, 3562]
s6057 = [3330, 8139]
s6056 = [496, 3004, 3100, 8678]
s6055 = [6149]
s6054 = [7168]

levels = [6102, 6099, 6098, 6097, 6096, 6095, 6094, 6093, 6092, 6091, 6090, 6089, 6088, 6087, 6086, 6085, 6084,
          6083, 6082, 6081, 6080, 6079, 6078, 6077, 6076, 6075, 6074, 6073, 6072, 6071, 6070, 6069, 6068, 6067,
          6066, 6065, 6064, 6063, 6062, 6061, 6060, 6059, 6058, 6057, 6056, 6055, 6054]
samples = [s6102, s6099, s6098, s6097, s6096, s6095, s6094, s6093, s6092, s6091, s6090, s6089, s6088, s6087, s6086,
           s6085, s6084, s6083, s6082, s6081, s6080, s6079, s6078, s6077, s6076, s6075, s6074, s6073, s6072, s6071,
           s6070, s6069, s6068, s6067, s6066, s6065, s6064, s6063, s6062, s6061, s6060, s6059, s6058, s6057, s6056,
           s6055, s6054]

x = np.concatenate(samples)
y = np.repeat(levels, [len(s) for s in samples])

plt.figure(figsize=[10, 10])
plt.plot(x, y, 'k.', label=r'Samples\n$\mu$ = 6077.28, $\sigma$ = 6.27')
plt.xlabel('Sample #')
plt.ylabel('ADC Counts')
plt.title('Run 673, channel121, Pedestal')
plt.legend(loc='upper right')
plt.grid(True)
plt.subplots_adjust(left=0.081, right=0.985, bottom=0.058, top=0.965)
plt.savefig('out.png', dpi=100)
plt.close()
